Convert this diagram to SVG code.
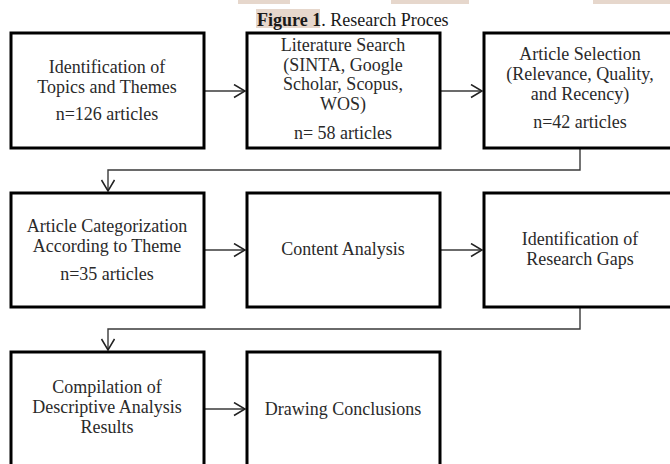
<svg xmlns="http://www.w3.org/2000/svg" width="670" height="464" viewBox="0 0 670 464">
<style>
.box{fill:#fff;stroke:#000;stroke-width:3}
.t{font-family:"Liberation Serif","Times New Roman",serif;font-size:18px;fill:#2a2a2a;text-anchor:middle}
.title{font-family:"Liberation Serif","Times New Roman",serif;font-size:18px;fill:#1a1a1a}
.conn{fill:none;stroke:#3a3a3a;stroke-width:1.4}
.hl{fill:#e6d7cc}
</style>
<defs>
<marker id="ah" markerUnits="userSpaceOnUse" markerWidth="14" markerHeight="16" refX="12" refY="7" orient="auto">
<path d="M1,0.5 L12,7 L1,13.5" fill="none" stroke="#222" stroke-width="1.5"/>
</marker>
</defs>
<rect width="670" height="464" fill="#fff"/>
<g id="header">
<rect class="hl" x="238" y="0" width="52" height="4"/>
<rect class="hl" x="391" y="0" width="78" height="4"/>
<rect class="hl" x="593" y="0" width="77" height="4"/>
<rect class="hl" x="256" y="9" width="64" height="19"/>
<text class="title" x="257" y="25.5"><tspan font-weight="bold">Figure 1</tspan>. Research Proces</text>
</g>
<g id="connectors">
<line class="conn" x1="204" y1="91" x2="245" y2="91" marker-end="url(#ah)"/>
<line class="conn" x1="440" y1="91" x2="482" y2="91" marker-end="url(#ah)"/>
<polyline class="conn" points="580,149 580,170 108,170 108,191" marker-end="url(#ah)"/>
<line class="conn" x1="204" y1="250" x2="245" y2="250" marker-end="url(#ah)"/>
<line class="conn" x1="440" y1="250" x2="482" y2="250" marker-end="url(#ah)"/>
<polyline class="conn" points="580,308 580,329 108,329 108,350" marker-end="url(#ah)"/>
<line class="conn" x1="204" y1="409" x2="245" y2="409" marker-end="url(#ah)"/>
</g>
<g id="n1">
<rect class="box" x="11" y="33" width="193" height="115"/>
<text class="t" x="107" y="73">Identification of</text>
<text class="t" x="107" y="93">Topics and Themes</text>
<text class="t" x="107" y="120">n=126 articles</text>
</g>
<g id="n2">
<rect class="box" x="247" y="33" width="193" height="115"/>
<text class="t" x="343" y="51">Literature Search</text>
<text class="t" x="343" y="71">(SINTA, Google</text>
<text class="t" x="343" y="90">Scholar, Scopus,</text>
<text class="t" x="343" y="110">WOS)</text>
<text class="t" x="343" y="139">n= 58 articles</text>
</g>
<g id="n3">
<rect class="box" x="484" y="33" width="194" height="115"/>
<text class="t" x="580" y="60">Article Selection</text>
<text class="t" x="580" y="80">(Relevance, Quality,</text>
<text class="t" x="580" y="100">and Recency)</text>
<text class="t" x="580" y="128">n=42 articles</text>
</g>
<g id="n4">
<rect class="box" x="11" y="193" width="193" height="114"/>
<text class="t" x="107" y="232">Article Categorization</text>
<text class="t" x="107" y="252">According to Theme</text>
<text class="t" x="107" y="280">n=35 articles</text>
</g>
<g id="n5">
<rect class="box" x="247" y="193" width="193" height="114"/>
<text class="t" x="343" y="255">Content Analysis</text>
</g>
<g id="n6">
<rect class="box" x="484" y="193" width="194" height="114"/>
<text class="t" x="580" y="245">Identification of</text>
<text class="t" x="580" y="265">Research Gaps</text>
</g>
<g id="n7">
<rect class="box" x="11" y="352" width="193" height="120"/>
<text class="t" x="107" y="393">Compilation of</text>
<text class="t" x="107" y="413">Descriptive Analysis</text>
<text class="t" x="107" y="433">Results</text>
</g>
<g id="n8">
<rect class="box" x="247" y="352" width="193" height="120"/>
<text class="t" x="343" y="415">Drawing Conclusions</text>
</g>
</svg>
